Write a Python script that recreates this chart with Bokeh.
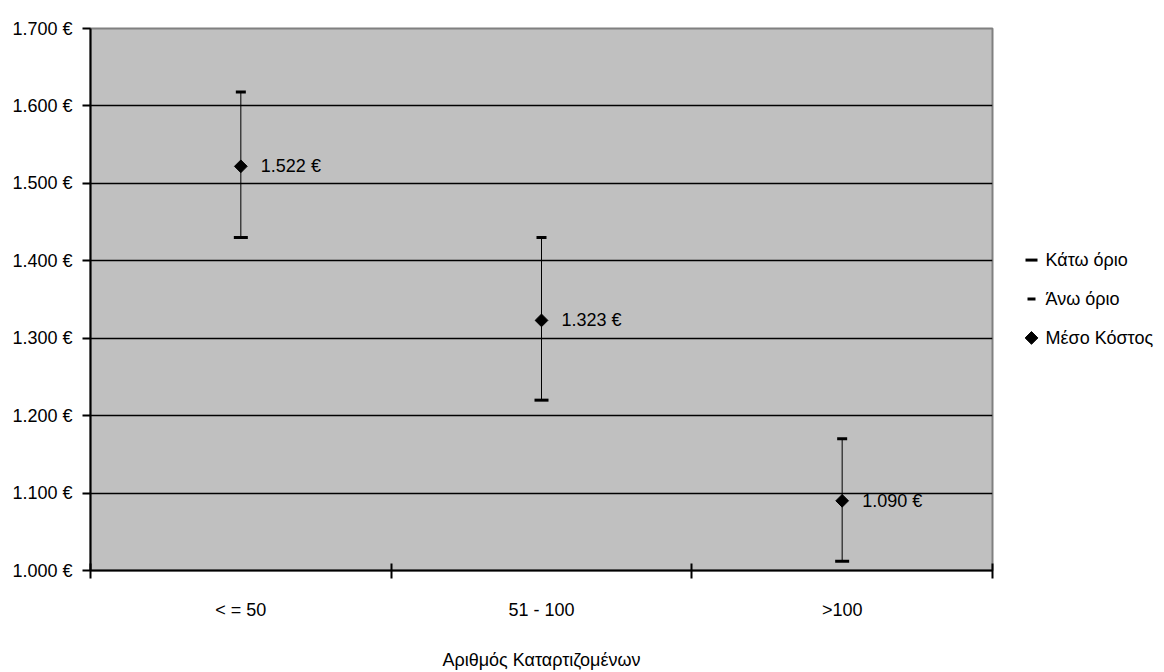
import math
from bokeh.plotting import figure
from bokeh.layouts import row
from bokeh.models import Range1d, FixedTicker
from bokeh.core.properties import value
from bokeh.embed import file_html
from bokeh.resources import INLINE

categories = ["< = 50", "51 - 100", ">100"]
mean_cost = [1522, 1323, 1090]
lower_bound = [1430, 1220, 1012]
upper_bound = [1618, 1430, 1170]
value_labels = ["1.522 €", "1.323 €", "1.090 €"]
y_ticks = [1000, 1100, 1200, 1300, 1400, 1500, 1600, 1700]
y_tick_labels = ["1.000 €", "1.100 €", "1.200 €", "1.300 €", "1.400 €", "1.500 €", "1.600 €", "1.700 €"]
series_names = ["Κάτω όριο", "Άνω όριο", "Μέσο Κόστος"]
x_title = "Αριθμός Καταρτιζομένων"

FONT = "Liberation Sans"
FS = "18px"
H = 672
TOP, BOTTOM = 28, 101

xs = [i + 0.5 for i in range(len(categories))]
bounds = list(range(len(categories) + 1))

p = figure(width=994, height=H, output_backend="svg", toolbar_location=None,
           x_range=Range1d(0, len(categories)), y_range=Range1d(y_ticks[0], y_ticks[-1]),
           min_border_left=90, min_border_right=2, min_border_top=TOP, min_border_bottom=BOTTOM,
           background_fill_color="#C0C0C0", border_fill_color="white",
           outline_line_color="#808080", outline_line_width=2)

# y axis
p.yaxis.ticker = FixedTicker(ticks=y_ticks)
p.yaxis.major_label_overrides = dict(zip(y_ticks, y_tick_labels))
p.yaxis.axis_line_width = 2
p.yaxis.axis_line_color = "black"
p.yaxis.major_tick_out = 8
p.yaxis.major_tick_in = 0
p.yaxis.major_tick_line_width = 2
p.yaxis.minor_tick_line_color = None
p.yaxis.major_label_standoff = 10
p.yaxis.major_label_text_font = FONT
p.yaxis.major_label_text_font_size = FS
p.yaxis.major_label_text_color = "black"

# x axis
p.xaxis.ticker = FixedTicker(ticks=xs, minor_ticks=bounds)
p.xaxis.major_label_overrides = dict(zip(xs, categories))
p.xaxis.axis_line_width = 2
p.xaxis.axis_line_color = "black"
p.xaxis.major_tick_out = 0
p.xaxis.major_tick_in = 0
p.xaxis.minor_tick_in = 7
p.xaxis.minor_tick_out = 8
p.xaxis.minor_tick_line_width = 2
p.xaxis.minor_tick_line_color = "black"
p.xaxis.major_label_standoff = 21
p.xaxis.major_label_text_font = FONT
p.xaxis.major_label_text_font_size = FS
p.xaxis.major_label_text_color = "black"
p.xaxis.axis_label = x_title
p.xaxis.axis_label_standoff = 27
p.xaxis.axis_label_text_font = FONT
p.xaxis.axis_label_text_font_size = FS
p.xaxis.axis_label_text_font_style = "normal"
p.xaxis.axis_label_text_color = "black"

# grid
p.xgrid.visible = False
p.ygrid.ticker = FixedTicker(ticks=y_ticks[:-1])
p.ygrid.grid_line_color = "black"
p.ygrid.grid_line_width = 1.5

# error bars
LOW_STYLE = dict(marker="dash", size=14, line_width=3, line_color="black")
UP_STYLE = dict(marker="dash", size=10, line_width=3, line_color="black")
MEAN_STYLE = dict(marker="square", angle=math.pi / 4, size=9, fill_color="black", line_color="black")

p.segment(x0=xs, y0=lower_bound, x1=xs, y1=upper_bound, line_color="black", line_width=1)
p.scatter(xs, lower_bound, **LOW_STYLE)
p.scatter(xs, upper_bound, **UP_STYLE)
p.scatter(xs, mean_cost, **MEAN_STYLE)

p.text(xs, mean_cost, text=value_labels, x_offset=20, text_baseline="middle",
       text_font=value(FONT), text_font_size=FS, text_color="black")

# legend panel (separate figure; its frame is aligned with the main frame,
# y range given in page pixels, downward)
LW = 170
lg = figure(width=LW, height=H, output_backend="svg", toolbar_location=None,
            x_range=Range1d(0, LW), y_range=Range1d(H - BOTTOM, TOP),
            min_border_left=0, min_border_right=0, min_border_top=TOP, min_border_bottom=BOTTOM,
            outline_line_color=None, background_fill_color="white",
            border_fill_color="white")
lg.axis.visible = False
lg.grid.visible = False
row_y0, row_gap, glyph_x, text_x = 260, 39, 37, 51
row_ys = [row_y0 + i * row_gap for i in range(len(series_names))]
lg.scatter([glyph_x], [row_ys[0]], **dict(LOW_STYLE, size=12))
lg.scatter([glyph_x], [row_ys[1]], **dict(UP_STYLE, size=8))
lg.scatter([glyph_x], [row_ys[2]], **MEAN_STYLE)
lg.text([text_x] * len(series_names), row_ys, text=series_names, text_baseline="middle",
        text_font=value(FONT), text_font_size=FS, text_color="black")

layout = row(p, lg)
open("out.html", "w").write(file_html(layout, INLINE))
